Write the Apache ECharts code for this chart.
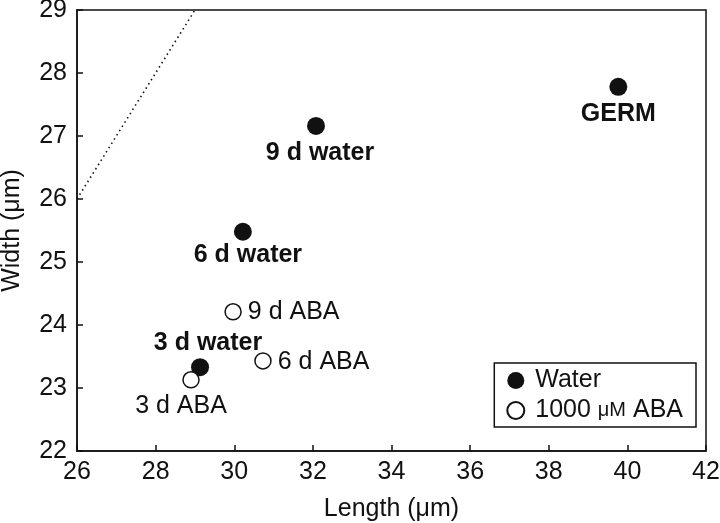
<!DOCTYPE html>
<html>
<head>
<meta charset="utf-8">
<script src="https://cdn.jsdelivr.net/npm/echarts@6/dist/echarts.min.js"></script>
<style>
  html, body { margin: 0; padding: 0; background: #fff; }
  #chart { width: 720px; height: 523px; }
</style>
</head>
<body>
<div id="chart"></div>
<script>
// water-imbibed seeds (length, width in µm)
var waterNames = ['GERM', '9 d water', '6 d water', '3 d water'];
var waterLength = [39.77, 32.08, 30.22, 29.13];
var waterWidth = [27.78, 27.16, 25.48, 23.33];

// 1000 µM ABA seeds
var abaNames = ['9 d ABA', '6 d ABA', '3 d ABA'];
var abaLength = [29.97, 30.73, 28.90];
var abaWidth = [24.21, 23.43, 23.13];

// 1:1 reference line
var refLine = [[26, 26], [29, 29]];

var labelPlace = {
  'GERM': { position: 'bottom', distance: 6 },
  '9 d water': { position: 'bottom', distance: 6, offset: [4, 0] },
  '6 d water': { position: 'bottom', distance: 2, offset: [5, 0] },
  '3 d water': { position: 'top', distance: 3, offset: [8, 0] },
  '9 d ABA': { position: 'right', distance: 6 },
  '6 d ABA': { position: 'right', distance: 6, offset: [0, 1] },
  '3 d ABA': { position: 'bottom', distance: 5, offset: [-10, 0] }
};

function points(names, xs, ys) {
  return names.map(function (n, i) {
    return { name: n, value: [xs[i], ys[i]], label: labelPlace[n] };
  });
}

var font = 'Liberation Sans, Arial, sans-serif';
var ink = '#111';
var chart = echarts.init(document.getElementById('chart'));

chart.setOption({
  animation: false,
  textStyle: { fontFamily: font },
  grid: {
    left: 77, right: 14, top: 10, bottom: 72, outerBoundsMode: 'none', containLabel: false,
    show: true, borderColor: ink, borderWidth: 1.5
  },
  xAxis: {
    type: 'value', min: 26, max: 42, interval: 2,
    name: 'Length (μm)', nameLocation: 'middle', nameGap: 46,
    nameTextStyle: { fontSize: 25, color: ink, fontFamily: font },
    axisLine: { lineStyle: { color: ink, width: 1.5 } },
    axisTick: { inside: true, length: 6, lineStyle: { color: ink, width: 1.5 } },
    axisLabel: { fontSize: 25, color: ink, margin: 9, fontFamily: font },
    splitLine: { show: false }
  },
  yAxis: {
    type: 'value', min: 22, max: 29, interval: 1,
    name: 'Width (μm)', nameLocation: 'middle', nameGap: 52,
    nameTextStyle: { fontSize: 25, color: ink, fontFamily: font },
    axisLine: { lineStyle: { color: ink, width: 1.5 } },
    axisTick: { inside: true, length: 6, lineStyle: { color: ink, width: 1.5 } },
    axisLabel: { fontSize: 25, color: ink, margin: 10, fontFamily: font },
    splitLine: { show: false }
  },
  legend: {
    orient: 'vertical', right: 24, bottom: 96,
    borderColor: ink, borderWidth: 1.5, padding: [5, 13, 4, 12],
    itemGap: 5, itemWidth: 17, itemHeight: 17,
    textStyle: {
      fontSize: 25, color: ink, fontFamily: font, padding: [0, 0, 0, 6],
      rich: { u: { fontSize: 20, color: ink, fontFamily: font } }
    },
    formatter: function (name) { return name.replace('μM', '{u|μM}'); },
    data: [
      { name: 'Water', icon: 'circle' },
      { name: '1000 μM ABA', icon: 'circle' }
    ]
  },
  series: [
    {
      type: 'line', data: refLine, showSymbol: false, silent: true,
      lineStyle: { type: [1.5, 3.5], color: ink, width: 1.6 }
    },
    {
      name: 'Water', type: 'scatter', symbolSize: 18,
      itemStyle: { color: ink, opacity: 1 },
      label: { show: true, formatter: '{b}', fontSize: 25, fontWeight: 'bold', color: ink, fontFamily: font },
      data: points(waterNames, waterLength, waterWidth)
    },
    {
      name: '1000 μM ABA', type: 'scatter', symbolSize: 16,
      itemStyle: { color: '#fff', borderColor: ink, borderWidth: 1.5, opacity: 1 },
      label: { show: true, formatter: '{b}', fontSize: 25, color: ink, fontFamily: font },
      data: points(abaNames, abaLength, abaWidth)
    }
  ]
});
</script>
</body>
</html>
